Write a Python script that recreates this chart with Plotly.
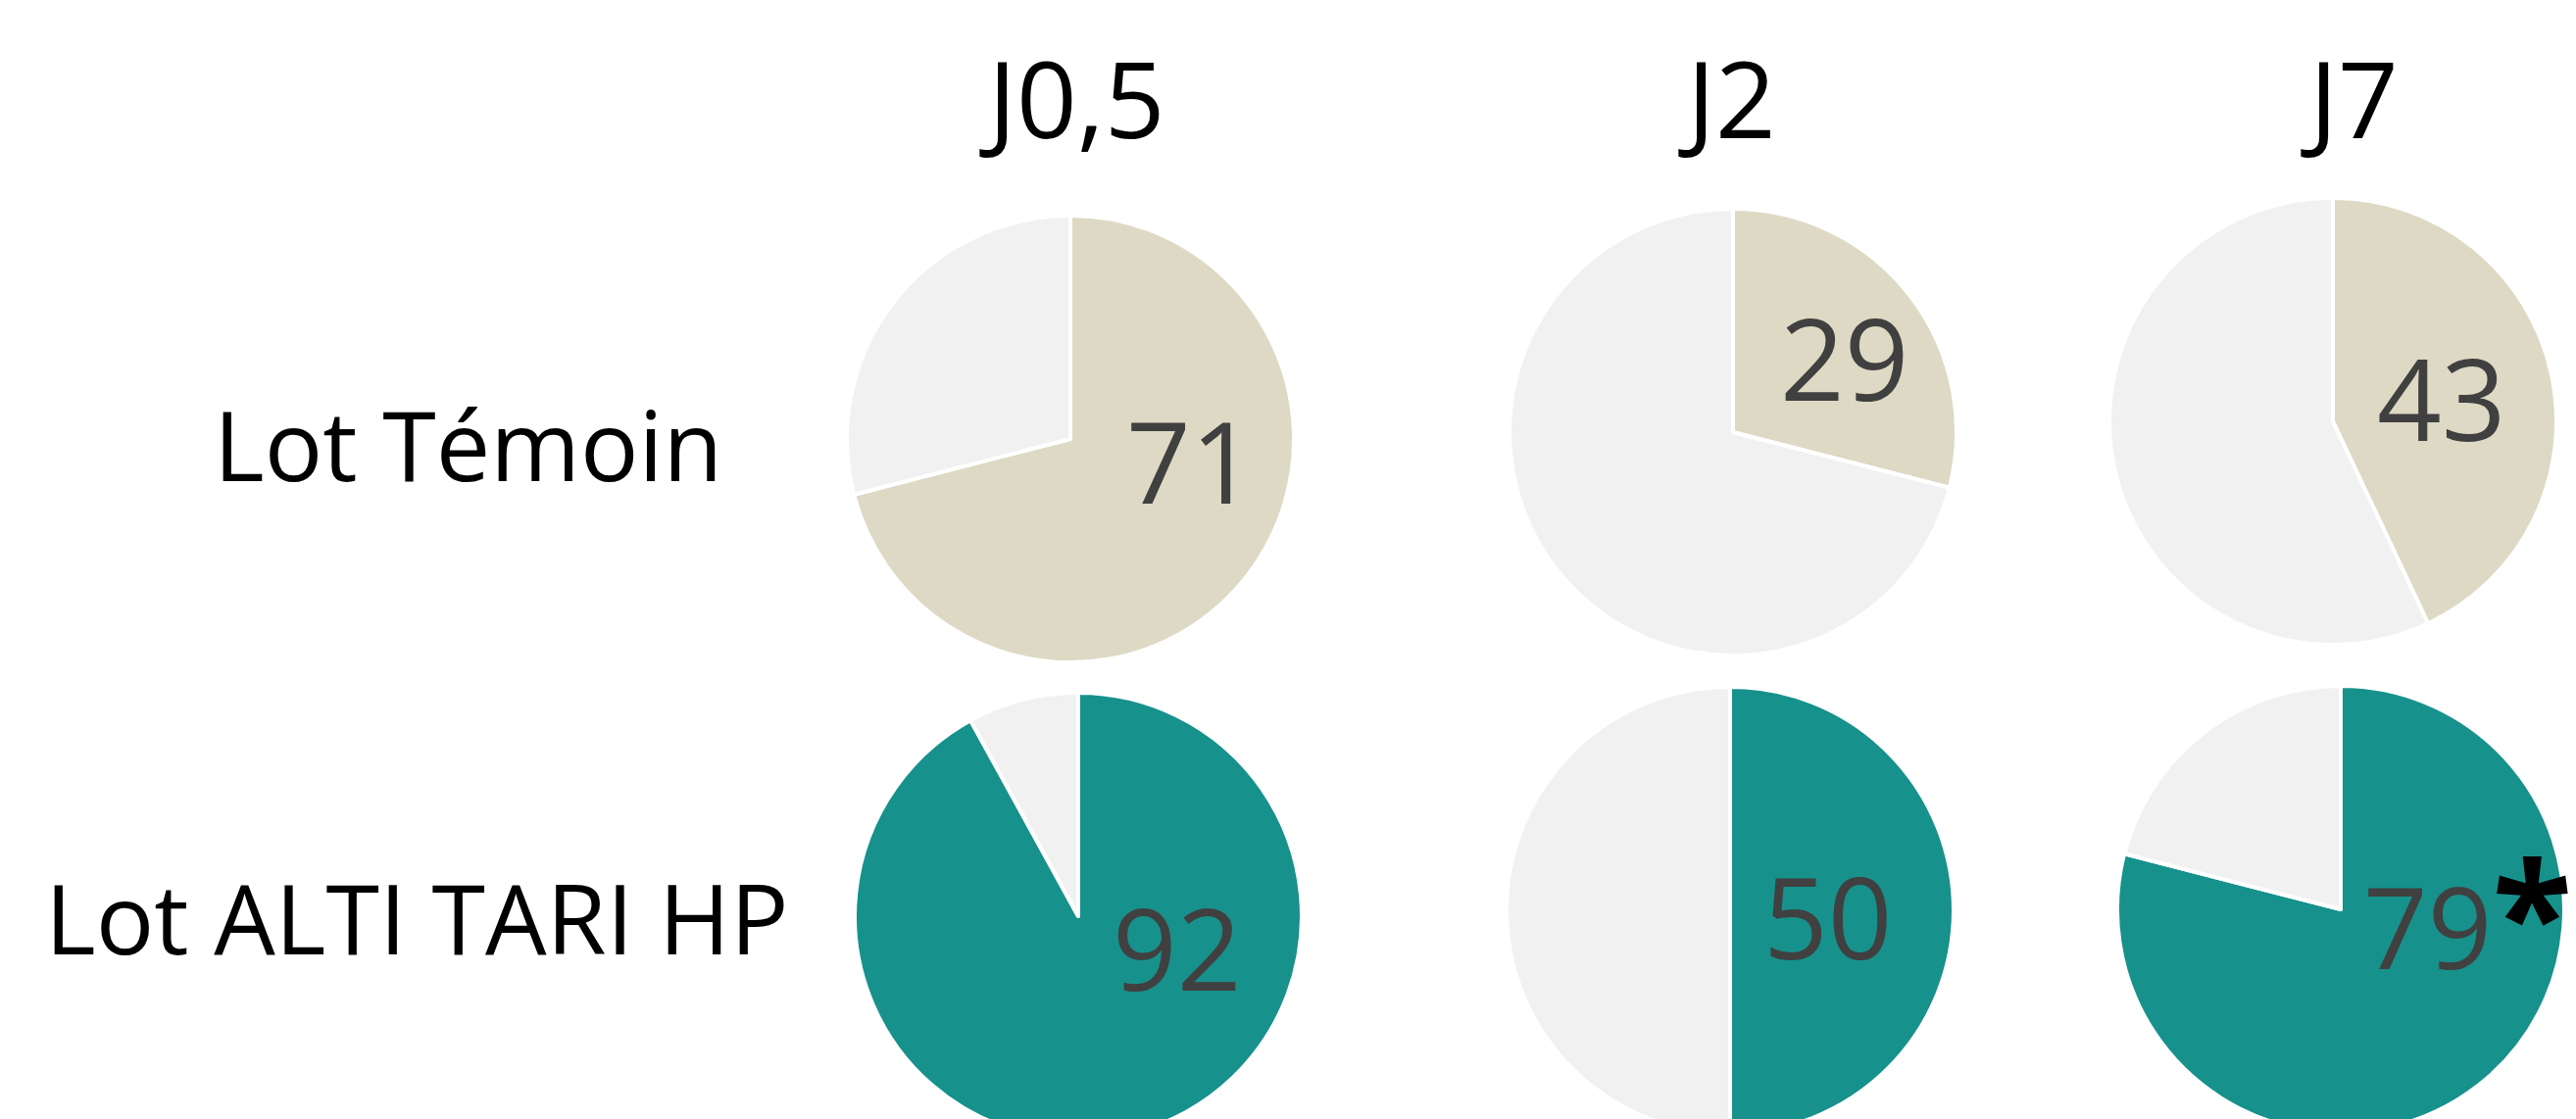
import plotly.graph_objects as go

# ---------------- data ----------------
days = ["J0,5", "J2", "J7"]
groups = ["Lot Témoin", "Lot ALTI TARI HP"]
slices = ["Positif", "Reste"]
temoin_values = [71, 29, 43]
temoin_rest = [29, 71, 57]
alti_values = [92, 50, 79]
alti_rest = [8, 50, 21]
alti_marks = ["", "", "*"]

# ---------------- styling / layout ----------------
W, H = 2628, 1170
R = 228
beige = "#DDD9C4"
teal = "#17918C"
grey = "#F1F1F1"
num_color = "#404040"
NUM_SIZE = 115
MARK_SIZE = 150

# pie centres in page pixels (row, col)
centres = [
    [(1092, 448), (1768, 441), (2380, 430)],
    [(1100, 935), (1765, 929), (2388, 928)],
]
# label offsets from pie centre (pixels)
label_offsets = [
    [(123, 18), (114, -80), (111, -28)],
    [(101, 29), (100, 2), (107, 20)],
]
header_pos = [(1093, 97), (1762, 97), (2397, 97)]
group_pos = [(477, 451), (425, 933)]


def px(x):
    return x / W


def py(y):
    return 1 - y / H


fig = go.Figure()
annotations = []

rows = [(temoin_values, temoin_rest, beige, [""] * 3), (alti_values, alti_rest, teal, alti_marks)]
for ri, (vals, rest, col, marks) in enumerate(rows):
    for ci in range(3):
        cx, cy = centres[ri][ci]
        fig.add_trace(go.Pie(
            labels=slices,
            values=[vals[ci], rest[ci]],
            sort=False,
            direction="clockwise",
            rotation=0,
            marker=dict(colors=[col, grey], line=dict(color="white", width=4)),
            textinfo="none",
            hoverinfo="label+value",
            showlegend=False,
            domain=dict(x=[px(cx - R), px(cx + R)], y=[py(cy + R), py(cy - R)]),
        ))
        dx, dy = label_offsets[ri][ci]
        if marks[ci]:
            # number followed by a bold black significance mark, one text
            baseline = cy + dy + 0.357 * NUM_SIZE
            centre_y = baseline - (1.069 - 0.293) / 2 * MARK_SIZE
            annotations.append(dict(
                x=px(W - 2), y=py(centre_y), xref="paper", yref="paper",
                text=str(vals[ci]) + "<span style='color:black;font-weight:bold;font-size:"
                + str(MARK_SIZE) + "px'>" + marks[ci] + "</span>",
                showarrow=False, xanchor="right", yanchor="middle",
                font=dict(family="Open Sans", size=NUM_SIZE, color=num_color),
            ))
        else:
            annotations.append(dict(
                x=px(cx + dx), y=py(cy + dy + 3), xref="paper", yref="paper",
                text=str(vals[ci]), showarrow=False, xanchor="center", yanchor="middle",
                font=dict(family="Open Sans", size=NUM_SIZE, color=num_color),
            ))

for d, (x, y) in zip(days, header_pos):
    annotations.append(dict(
        x=px(x), y=py(y + 2), xref="paper", yref="paper", text=d, showarrow=False,
        xanchor="center", yanchor="middle",
        font=dict(family="Open Sans", size=108, color="black"),
    ))

for g, (x, y) in zip(groups, group_pos):
    annotations.append(dict(
        x=px(x), y=py(y + 2), xref="paper", yref="paper", text=g, showarrow=False,
        xanchor="center", yanchor="middle",
        font=dict(family="Open Sans", size=99, color="black"),
    ))

fig.update_layout(
    width=W, height=H,
    margin=dict(l=0, r=0, t=0, b=0),
    paper_bgcolor="white", plot_bgcolor="white",
    annotations=annotations,
    showlegend=False,
)

fig.write_html(
    "out.html",
    config={"displayModeBar": False},
    post_script="document.body.style.margin='0';document.body.style.overflow='hidden';",
)
